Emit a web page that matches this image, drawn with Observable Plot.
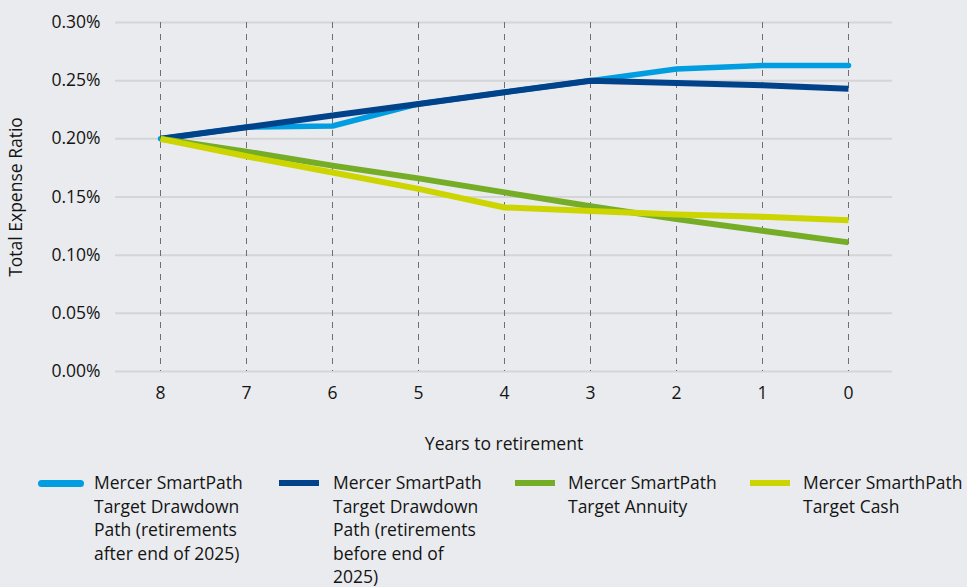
<!DOCTYPE html>
<html><head><meta charset="utf-8">
<script src="https://cdn.jsdelivr.net/npm/d3@7"></script>
<script src="https://cdn.jsdelivr.net/npm/@observablehq/plot@0.6"></script>
<style>
html,body{margin:0;padding:0;background:#e9ebee;}
body{width:967px;height:587px;overflow:hidden;font-family:"Open Sans",sans-serif;color:#141414;}
#legend{position:relative;height:127px;margin-top:11px;}
.item{position:absolute;top:0;display:flex;align-items:flex-start;}
.sw{height:6px;margin-top:9px;flex:none;}
.lab{font-size:17.5px;line-height:23.5px;white-space:pre-line;}
</style></head><body>
<div id="chart"></div>
<div id="legend"></div>
<script>
const years = ["8","7","6","5","4","3","2","1","0"];
const seriesNames = [
  "Mercer SmartPath Target Drawdown Path (retirements after end of 2025)",
  "Mercer SmartPath Target Drawdown Path (retirements before end of 2025)",
  "Mercer SmartPath Target Annuity",
  "Mercer SmarthPath Target Cash"
];
const legendLabels = [
  "Mercer SmartPath\nTarget Drawdown\nPath (retirements\nafter end of 2025)",
  "Mercer SmartPath\nTarget Drawdown\nPath (retirements\nbefore end of\n2025)",
  "Mercer SmartPath\nTarget Annuity",
  "Mercer SmarthPath\nTarget Cash"
];
const colors = ["#009de0", "#00438a", "#76ad27", "#cdd500"];
const drawdownAfter  = [0.200, 0.210, 0.211, 0.230, 0.240, 0.250, 0.260, 0.263, 0.263];
const drawdownBefore = [0.200, 0.210, 0.220, 0.230, 0.240, 0.250, 0.248, 0.246, 0.243];
const annuity        = [0.200, 0.189, 0.177, 0.166, 0.154, 0.142, 0.131, 0.121, 0.111];
const cash           = [0.200, 0.185, 0.171, 0.157, 0.141, 0.138, 0.135, 0.133, 0.130];
const yTicks = [0, 0.05, 0.10, 0.15, 0.20, 0.25, 0.30];

const allValues = [drawdownAfter, drawdownBefore, annuity, cash];
const data = seriesNames.flatMap((s, i) => years.map((y, j) => ({year: y, value: allValues[i][j], series: s})));

const lineMark = (i, opts) => Plot.line(data.filter(d => d.series === seriesNames[i]),
  Object.assign({x: "year", y: "value", stroke: colors[i], strokeLinejoin: "round"}, opts));

const chart = Plot.plot({
  width: 967, height: 460,
  marginTop: 22, marginLeft: 115, marginRight: 75, marginBottom: 89,
  style: {background: "#e9ebee", fontFamily: "Open Sans, sans-serif", fontSize: "17.5px", color: "#141414", overflow: "visible"},
  x: {type: "point", domain: years, padding: 0.5},
  y: {domain: [0, 0.30]},
  marks: [
    Plot.gridY(yTicks, {stroke: "#d4d5d7", strokeWidth: 2, strokeOpacity: 1}),
    Plot.gridX(years, {stroke: "#6f6f6f", strokeWidth: 1, strokeOpacity: 1, strokeDasharray: "6,6"}),
    Plot.axisY(yTicks, {tickSize: 0, tickPadding: 15, tickFormat: d => d.toFixed(2) + "%",
      label: "Total Expense Ratio", labelAnchor: "center", labelArrow: "none", labelOffset: 106}),
    Plot.axisX(years, {tickSize: 0, tickPadding: 15,
      label: "Years to retirement", labelAnchor: "center", labelArrow: "none", labelOffset: 78}),
    lineMark(0, {strokeWidth: 5.5, strokeLinecap: "round"}),
    lineMark(1, {strokeWidth: 6, strokeLinecap: "butt"}),
    lineMark(2, {strokeWidth: 6, strokeLinecap: "butt"}),
    lineMark(3, {strokeWidth: 6, strokeLinecap: "butt"})
  ]
});
document.getElementById("chart").appendChild(chart);

const itemLeft = [38, 279, 515, 750];
const swWidth = [46, 40, 40, 40];
const swGap = [10, 14, 13, 13];
const legend = document.getElementById("legend");
legendLabels.forEach((lab, i) => {
  const it = document.createElement("div");
  it.className = "item";
  it.style.left = itemLeft[i] + "px";
  const sw = document.createElement("div");
  sw.className = "sw";
  sw.style.background = colors[i];
  sw.style.width = swWidth[i] + "px";
  sw.style.marginRight = swGap[i] + "px";
  if (i === 0) { sw.style.borderRadius = "4px"; sw.style.height = "7px"; }
  const t = document.createElement("div");
  t.className = "lab";
  t.textContent = lab;
  it.appendChild(sw); it.appendChild(t);
  legend.appendChild(it);
});
</script>
</body></html>
